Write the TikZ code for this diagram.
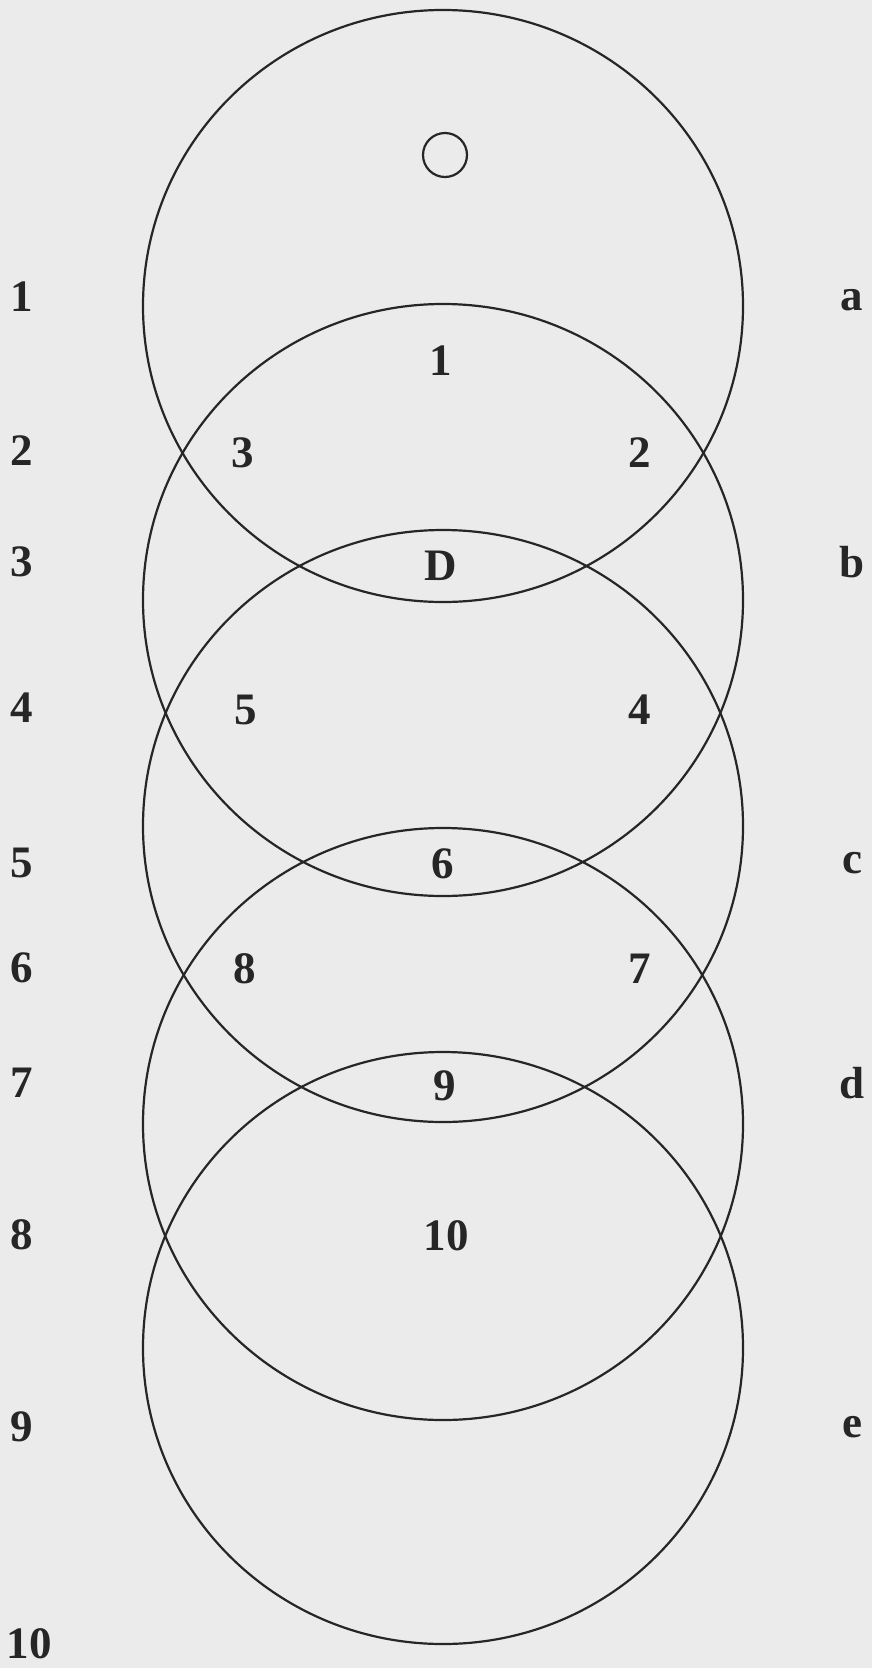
\documentclass[tikz,border=0pt]{standalone}
\usepackage{fontspec}
\setmainfont{Liberation Serif}
\usetikzlibrary{shapes.geometric}
\begin{document}
\begin{tikzpicture}[x=1pt,y=-1pt,
  ring/.style={ellipse,draw=black!85,line width=2.2pt,minimum width=600pt,minimum height=592pt,inner sep=0pt},
  lab/.style={font=\fontsize{45}{45}\selectfont\bfseries,text=black!85,inner sep=0pt}]
\fill[black!8] (0,0) rectangle (872,1668);
\useasboundingbox (0,0) rectangle (872,1668);
% circles
\node[ring] (c1) at (443,306) {};
\node[ring] (c2) at (443,600) {};
\node[ring] (c3) at (443,826) {};
\node[ring] (c4) at (443,1124) {};
\node[ring] (c5) at (443,1348) {};
\node[circle,draw=black!85,line width=2.2pt,minimum size=44pt,inner sep=0pt] (o) at (445,155) {};
% inner labels
\node[lab] (i1) at (441,361) {1};
\node[lab] (i2) at (640,453) {2};
\node[lab] (i3) at (243,453) {3};
\node[lab] (iD) at (441,566) {D};
\node[lab] (i4) at (640,710) {4};
\node[lab] (i5) at (246,710) {5};
\node[lab] (i6) at (443,864) {6};
\node[lab] (i7) at (640,969) {7};
\node[lab] (i8) at (245,969) {8};
\node[lab] (i9) at (445,1086) {9};
\node[lab] (i10) at (446,1236) {10};
% left labels
\node[lab] (l1) at (22,297) {1};
\node[lab] (l2) at (22,451) {2};
\node[lab] (l3) at (22,562) {3};
\node[lab] (l4) at (22,708) {4};
\node[lab] (l5) at (22,863) {5};
\node[lab] (l6) at (22,968) {6};
\node[lab] (l7) at (22,1083) {7};
\node[lab] (l8) at (22,1235) {8};
\node[lab] (l9) at (22,1427) {9};
\node[lab] (l10) at (29,1644) {10};
% right labels
\node[lab] (ra) at (852,300) {a};
\node[lab] (rb) at (852,562) {b};
\node[lab] (rc) at (852,863) {c};
\node[lab] (rd) at (852,1083) {d};
\node[lab] (re) at (852,1427) {e};
\end{tikzpicture}
\end{document}
